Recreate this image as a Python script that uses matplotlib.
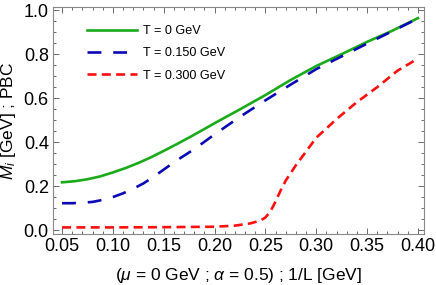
import numpy as np
import matplotlib
matplotlib.use("Agg")
import matplotlib.pyplot as plt
from matplotlib.ticker import MultipleLocator

# 1/L values [GeV] and masses [GeV]
invL_T0 = [0.05, 0.0625, 0.075, 0.0875, 0.10, 0.1125, 0.125, 0.1375, 0.15, 0.1625, 0.175, 0.1875,
           0.20, 0.225, 0.25, 0.275, 0.30, 0.325, 0.35, 0.375, 0.40]
mass_T0 = [0.217, 0.222, 0.231, 0.244, 0.262, 0.282, 0.305, 0.331, 0.36, 0.39, 0.421, 0.453,
           0.486, 0.549, 0.614, 0.683, 0.746, 0.80, 0.856, 0.907, 0.964]

invL_T150 = [0.05, 0.06, 0.07, 0.08, 0.09, 0.10, 0.11, 0.12, 0.13, 0.14, 0.15, 0.1625, 0.175, 0.1875,
             0.20, 0.225, 0.25, 0.275, 0.30, 0.325, 0.35, 0.375, 0.40]
mass_T150 = [0.122, 0.122, 0.124, 0.128, 0.137, 0.15, 0.167, 0.188, 0.212, 0.242, 0.275, 0.316, 0.353, 0.393,
             0.435, 0.515, 0.59, 0.662, 0.732, 0.79, 0.848, 0.905, 0.962]

invL_T300 = [0.05, 0.10, 0.15, 0.20, 0.22, 0.235, 0.245, 0.25, 0.255, 0.26, 0.265, 0.27, 0.28, 0.29,
             0.30, 0.31, 0.32, 0.34, 0.36, 0.38, 0.40]
mass_T300 = [0.012, 0.012, 0.013, 0.015, 0.02, 0.03, 0.043, 0.057, 0.085, 0.13, 0.18, 0.225, 0.295, 0.357,
             0.42, 0.462, 0.505, 0.582, 0.65, 0.725, 0.78]

labels = ["T = 0 GeV", "T = 0.150 GeV", "T = 0.300 GeV"]

plt.rcParams['font.family'] = ['Liberation Sans', 'DejaVu Sans']
plt.rcParams['mathtext.fontset'] = 'custom'
plt.rcParams['mathtext.it'] = 'Liberation Sans:italic'
plt.rcParams['mathtext.rm'] = 'Liberation Sans'
plt.rcParams['lines.scale_dashes'] = False

fig = plt.figure(figsize=(4.36, 2.85), dpi=100)
ax = fig.add_axes([0.1216, 0.179, 0.8509, 0.796])

ax.plot(invL_T0, mass_T0, color='#1aaa1a', lw=1.9, label=labels[0])
ax.plot(invL_T150, mass_T150, color='#0a0ab4', lw=1.9, dashes=(10, 8.5), label=labels[1])
ax.plot(invL_T300, mass_T300, color='#ff1010', lw=1.9, dashes=(6.5, 3.8), label=labels[2])

ax.set_xlim(0.0411, 0.406)
ax.set_ylim(-0.018, 1.014)

ax.xaxis.set_major_locator(MultipleLocator(0.05))
ax.xaxis.set_minor_locator(MultipleLocator(0.01))
ax.yaxis.set_major_locator(MultipleLocator(0.2))
ax.yaxis.set_minor_locator(MultipleLocator(0.05))
ax.xaxis.set_major_formatter(plt.FuncFormatter(lambda v, p: f"{v:.2f}"))
ax.yaxis.set_major_formatter(plt.FuncFormatter(lambda v, p: f"{v:.1f}"))

ax.tick_params(which='both', direction='in', top=True, right=True, color='#555555', width=0.6)
ax.tick_params(which='major', length=4.5, labelsize=13, pad=3)
ax.tick_params(which='minor', length=2.5)
for s in ax.spines.values():
    s.set_color('#888888')
    s.set_linewidth(0.8)

ax.set_xlabel(r"($\mu$ = 0 GeV ; $\alpha$ = 0.5) ; 1/L [GeV]", fontsize=12.5, labelpad=8)
ax.set_ylabel(r"$M_i$ [GeV] ; PBC", fontsize=12.5, labelpad=4)

# legend: line 83-132 px, text from ~142 px, rows at y 31/53/78
ax.legend(loc='upper left', bbox_to_anchor=(0.06, 0.97), frameon=False, fontsize=9.1,
          handlelength=4.0, handletextpad=0.45, labelspacing=0.8)

fig.savefig("out.png", dpi=100)
